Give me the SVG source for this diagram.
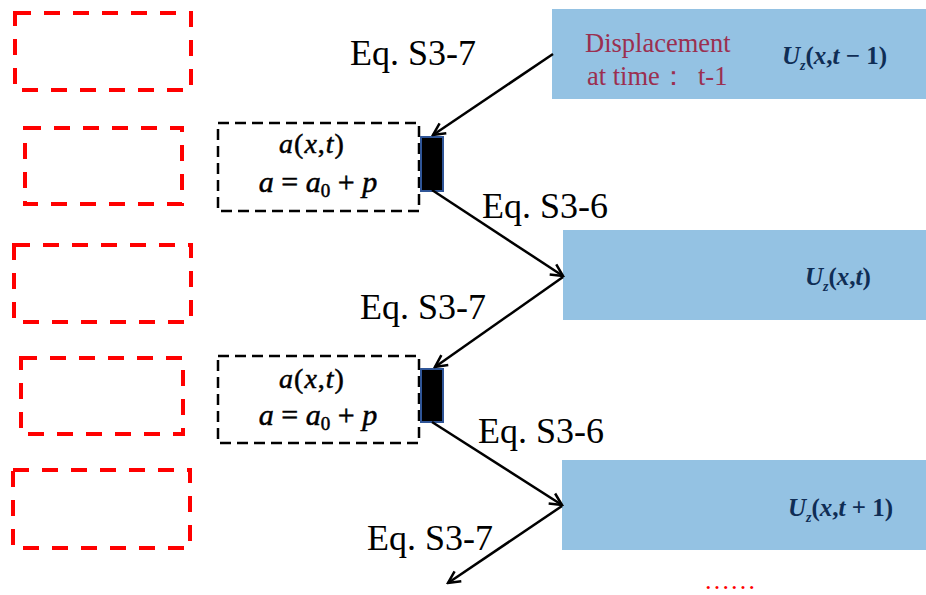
<svg xmlns="http://www.w3.org/2000/svg" width="926" height="595" viewBox="0 0 926 595">
  <style>
    .slot { fill: none; stroke: #FF0000; stroke-width: 4; stroke-dasharray: 16 13; }
    .calc { fill: none; stroke: #000; stroke-width: 2.5; stroke-dasharray: 11 6; }
    .port { fill: #000; stroke: #2F5597; stroke-width: 2; }
    .state { fill: #94C2E3; }
    .eq { font-family: "Liberation Serif", "Times New Roman", serif; font-size: 36px; fill: #000; }
    .lbl { font-family: "Liberation Serif", "Times New Roman", serif; font-size: 26.5px; fill: #9B2F50; }
    .uz { font-family: "Liberation Serif", "Times New Roman", serif; font-size: 25px; font-weight: bold; fill: #0F2D55; }
    .uz .i { font-style: italic; }
    .sub { font-size: 14px; font-style: italic; }
    .fx { font-family: "Liberation Serif", "Times New Roman", serif; font-style: italic; fill: #000; stroke: #000; stroke-width: 0.5; }
    .up { font-style: normal; }
    .conn line { stroke: #000; stroke-width: 2.5; marker-end: url(#arr); }
  </style>
  <defs>
    <marker id="arr" viewBox="0 0 16 16" refX="14" refY="8" markerWidth="16" markerHeight="16" markerUnits="userSpaceOnUse" orient="auto">
      <polyline points="2,2 14,8 2,14" fill="none" stroke="#000" stroke-width="2.5"/>
    </marker>
  </defs>

  <rect width="926" height="595" fill="#fff"/>

  <!-- red placeholder slots, left column -->
  <g id="slot1"><rect class="slot" x="15" y="13" width="176" height="77"/></g>
  <g id="slot2"><rect class="slot" x="25" y="128" width="157" height="76"/></g>
  <g id="slot3"><rect class="slot" x="14" y="245" width="177" height="77"/></g>
  <g id="slot4"><rect class="slot" x="21" y="358" width="162" height="76"/></g>
  <g id="slot5"><rect class="slot" x="13" y="470" width="177" height="78"/></g>

  <!-- acceleration blocks -->
  <g id="calc1">
    <rect class="calc" x="218" y="123" width="201" height="88"/>
    <text class="fx" x="312" y="153" font-size="28" text-anchor="middle" letter-spacing="1">a<tspan class="up">(</tspan>x<tspan class="up">,</tspan>t<tspan class="up">)</tspan></text>
    <text class="fx" x="318" y="192" font-size="30" text-anchor="middle">a <tspan class="up">=</tspan> a<tspan class="up" font-size="19" dy="5">0</tspan><tspan dy="-5"> </tspan><tspan class="up">+</tspan> p</text>
  </g>
  <g id="port1"><rect class="port" x="421" y="137" width="22" height="54"/></g>

  <g id="calc2">
    <rect class="calc" x="218" y="356" width="201" height="87"/>
    <text class="fx" x="312" y="388" font-size="28" text-anchor="middle" letter-spacing="1">a<tspan class="up">(</tspan>x<tspan class="up">,</tspan>t<tspan class="up">)</tspan></text>
    <text class="fx" x="318" y="425" font-size="30" text-anchor="middle">a <tspan class="up">=</tspan> a<tspan class="up" font-size="19" dy="5">0</tspan><tspan dy="-5"> </tspan><tspan class="up">+</tspan> p</text>
  </g>
  <g id="port2"><rect class="port" x="421" y="369" width="22" height="53"/></g>

  <!-- displacement states -->
  <g id="state1">
    <rect class="state" x="552" y="9" width="374" height="90"/>
    <text class="lbl" x="585" y="52">Displacement</text>
    <text class="lbl" x="587" y="85">at time：<tspan x="698">t-1</tspan></text>
    <text class="uz" x="782" y="64"><tspan class="i">U</tspan><tspan class="sub" dy="6">z</tspan><tspan dy="-6">(</tspan><tspan class="i">x</tspan>,<tspan class="i">t</tspan> − 1)</text>
  </g>
  <g id="state2">
    <rect class="state" x="563" y="230" width="363" height="90"/>
    <text class="uz" x="805" y="285"><tspan class="i">U</tspan><tspan class="sub" dy="6">z</tspan><tspan dy="-6">(</tspan><tspan class="i">x</tspan>,<tspan class="i">t</tspan>)</text>
  </g>
  <g id="state3">
    <rect class="state" x="562" y="460" width="364" height="90"/>
    <text class="uz" x="788" y="516"><tspan class="i">U</tspan><tspan class="sub" dy="6">z</tspan><tspan dy="-6">(</tspan><tspan class="i">x</tspan>,<tspan class="i">t</tspan> + 1)</text>
  </g>

  <!-- connectors -->
  <g class="conn" id="connectors">
    <line x1="553" y1="54" x2="433" y2="135"/>
    <line x1="432" y1="190" x2="563" y2="276"/>
    <line x1="563" y1="277" x2="435" y2="367"/>
    <line x1="432" y1="422" x2="562" y2="505"/>
    <line x1="562" y1="506" x2="448" y2="583"/>
  </g>

  <!-- equation labels -->
  <g id="labels">
    <text class="eq" x="350" y="65">Eq. S3-7</text>
    <text class="eq" x="482" y="218">Eq. S3-6</text>
    <text class="eq" x="360" y="319">Eq. S3-7</text>
    <text class="eq" x="478" y="443">Eq. S3-6</text>
    <text class="eq" x="367" y="550">Eq. S3-7</text>
  </g>

  <!-- continuation mark -->
  <text x="704" y="589" font-family="Liberation Serif, serif" font-size="26" fill="#FF0000">……</text>
</svg>
